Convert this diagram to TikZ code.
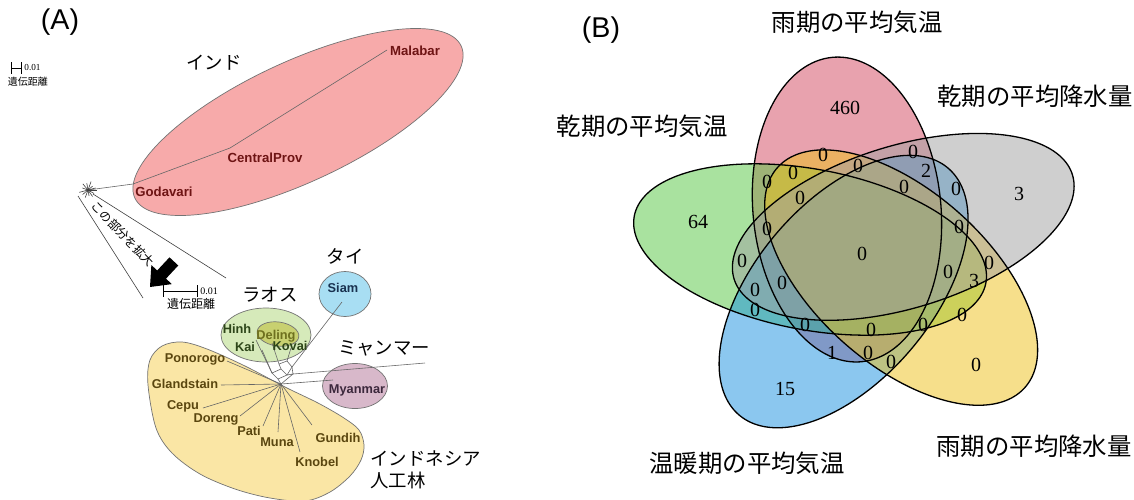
\documentclass[tikz,border=0pt]{standalone}
\usepackage{fontspec}
\setmainfont{Liberation Serif}
\setsansfont{Liberation Sans}
\newfontfamily\jp{Noto Sans CJK JP}

% Venn set colours (filled at half opacity)
\definecolor{vred}{RGB}{211,71,95}
\definecolor{vgray}{RGB}{161,161,161}
\definecolor{vyellow}{RGB}{239,193,25}
\definecolor{vblue}{RGB}{25,145,225}
\definecolor{vgreen}{RGB}{85,199,65}
% population groups of the network
\definecolor{indfill}{RGB}{247,170,170}
\definecolor{indtext}{RGB}{110,20,20}
\definecolor{idnfill}{RGB}{250,230,165}
\definecolor{idntext}{RGB}{90,70,15}
\definecolor{laofill}{RGB}{214,234,186}
\definecolor{laotext}{RGB}{45,70,25}
\definecolor{delfill}{RGB}{200,208,112}
\definecolor{deltext}{RGB}{110,112,30}
\definecolor{thafill}{RGB}{168,222,243}
\definecolor{thatext}{RGB}{25,50,80}
\definecolor{myafill}{RGB}{216,184,202}
\definecolor{myatext}{RGB}{60,40,60}

\tikzset{
  panel/.style={font=\sffamily\fontsize{14.3}{16}\selectfont, inner sep=0},
  jlab/.style={font=\jp\fontsize{9.2}{11}\selectfont, inner sep=0},
  vlab/.style={font=\jp\fontsize{12.2}{14}\selectfont, inner sep=0},
  num/.style={font=\fontsize{10}{12}\selectfont, inner sep=0},
  taxon/.style={font=\sffamily\bfseries\fontsize{6.4}{8}\selectfont, inner sep=0},
  taxonbig/.style={font=\sffamily\bfseries\fontsize{6.6}{8}\selectfont, inner sep=0, text=indtext},
  branch/.style={draw=black!60, line width=0.3pt},
  blob/.style={draw=black!55, line width=0.35pt},
  scalebar/.style={|-|, line width=0.5pt},
}

\begin{document}
\begin{tikzpicture}[x=0.5pt, y=-0.5pt]
\fill[white] (0,0) rectangle (1134,499);
\useasboundingbox (0,0) rectangle (1134,499);

% ---------------- panel A : splits network ----------------
\node[panel] (pa) at (60,22) {(A)};

% overall scale bar
\coordinate (s1a) at (11,68);
\coordinate (s1b) at (22,68);
\draw[scalebar] (s1a) -- (s1b);
\node[font=\fontsize{4.6}{5}\selectfont, anchor=west, inner sep=0] (s1t) at (24,68) {0.01};
\node[font=\jp\fontsize{5}{6}\selectfont, inner sep=0] (s1j) at (28,82) {遺伝距離};

% India group
\draw[blob, fill=indfill, rotate around={25:(298,122)}] (298,122) ellipse [x radius=180, y radius=60];
\coordinate (hubA) at (88,190);
\coordinate (jGod) at (133,184);
\coordinate (jCen) at (230,148);
\coordinate (jMal) at (387,50);
\draw[branch] (hubA) -- (jGod) -- (jCen) -- (jMal);
\foreach \a/\l in {0/9,30/7,55/8,80/6,110/8,140/7,165/9,200/6,230/8,260/7,290/9,320/6,345/8}
  \draw[branch, draw=black!75] (hubA) -- ++(\a:\l);
\node[taxonbig] (godavari) at (164,192) {Godavari};
\node[taxonbig] (centralprov) at (265,158) {CentralProv};
\node[taxonbig] (malabar) at (415,51) {Malabar};
\node[jlab] (india) at (214,63) {インド};

% cone towards the enlarged part
\coordinate (c1a) at (78,196);
\coordinate (c1b) at (143,298);
\coordinate (c2a) at (93,194);
\coordinate (c2b) at (226,278);
\draw[branch, draw=black!75] (c1a) -- (c1b);
\draw[branch, draw=black!75] (c2a) -- (c2b);
\node[font=\jp\fontsize{6}{7}\selectfont, inner sep=0, rotate=-46] (zoomtxt) at (123,234) {この部分を拡大};

% block arrow
\begin{scope}[shift={(150,287)}, rotate=47]
  \fill[black] (0,0) -- (17,14) -- (17,6) -- (35,6) -- (35,-6) -- (17,-6) -- (17,-14) -- cycle;
\end{scope}

% enlarged scale bar
\coordinate (s2a) at (163,291);
\coordinate (s2b) at (198,291);
\draw[scalebar] (s2a) -- (s2b);
\node[font=\fontsize{5}{6}\selectfont, anchor=west, inner sep=0] (s2t) at (200,291) {0.01};
\node[font=\jp\fontsize{6}{7}\selectfont, inner sep=0] (s2j) at (191,304) {遺伝距離};

% group outlines
\draw[blob, fill=idnfill] plot[smooth cycle, tension=0.55] coordinates {
  (148,385) (150,360) (162,346) (182,342) (207,349) (245,366) (285,387)
  (318,403) (344,418) (359,430) (364,445) (361,460) (350,476) (330,492)
  (305,501) (270,498) (235,489) (200,474) (172,453) (156,428)};
\draw[blob, fill=laofill] (266,335) ellipse [x radius=45, y radius=27];
\draw[blob, fill=delfill, rotate around={-8:(278,334)}] (278,334) ellipse [x radius=21, y radius=12];
\draw[blob, fill=thafill] (345,294) ellipse [x radius=26, y radius=22.5];
\draw[blob, fill=myafill] (355,386) ellipse [x radius=32.5, y radius=22.5];

% network branches
\coordinate (hub) at (281,384);
\coordinate (b1) at (272,373);
\coordinate (b2) at (281,369);
\coordinate (b3) at (287,375);
\coordinate (b4) at (278,379);
\coordinate (b5) at (279,364);
\coordinate (b6) at (287,361);
\coordinate (b7) at (292,367);
\coordinate (b8) at (293,374);
\coordinate (ePon) at (227,361);
\coordinate (eGla) at (221,385);
\coordinate (eCep) at (203,408);
\coordinate (eDor) at (240,416);
\coordinate (ePat) at (263,426);
\coordinate (eMun) at (278,432);
\coordinate (eKno) at (300,452);
\coordinate (eGun) at (312,425);
\coordinate (eSia) at (342,302);
\coordinate (eMy1) at (425,363);
\coordinate (eMy2) at (333,380);
\coordinate (eHin) at (256,340);
\coordinate (eKai) at (262,350);
\coordinate (eDel) at (272,343);
\coordinate (eKov) at (291,348);
\foreach \e in {ePon,eGla,eCep,eDor,ePat,eMun,eKno,eGun}
  \draw[branch] (hub) -- (\e);
\draw[branch] (b1) -- (b2) -- (b3) -- (b4) -- cycle;
\draw[branch] (b2) -- (b5) -- (b6) -- (b7) -- (b3);
\draw[branch] (b4) -- (hub) -- (b8) -- (b3);
\draw[branch] (b7) -- (b8);
\draw[branch] (b7) -- (eSia);
\draw[branch] (b8) -- (eMy1);
\draw[branch] (hub) -- (eMy2);
\draw[branch] (eHin) -- (b1);
\draw[branch] (eKai) -- (b1);
\draw[branch] (eDel) -- (b5);
\draw[branch] (eKov) -- (b6);

% taxon labels
\node[taxon, text=thatext] (siam) at (343,288) {Siam};
\node[taxon, text=laotext] (hinh) at (237,329) {Hinh};
\node[taxon, text=laotext] (kai) at (245,347) {Kai};
\node[taxon, text=deltext] (deling) at (276,336) {Deling};
\node[taxon, text=laotext] (kovai) at (290,346) {Kovai};
\node[taxon, text=myatext] (myanmar) at (357,390) {Myanmar};
\node[taxon, text=idntext] (ponorogo) at (195,359) {Ponorogo};
\node[taxon, text=idntext] (glandstain) at (185,384) {Glandstain};
\node[taxon, text=idntext] (cepu) at (183,406) {Cepu};
\node[taxon, text=idntext] (doreng) at (216,419) {Doreng};
\node[taxon, text=idntext] (pati) at (249,431) {Pati};
\node[taxon, text=idntext] (muna) at (277,442) {Muna};
\node[taxon, text=idntext] (gundih) at (338,438) {Gundih};
\node[taxon, text=idntext] (knobel) at (317,462) {Knobel};

% group names
\node[jlab] (thai) at (345,256) {タイ};
\node[jlab] (laos) at (270,295) {ラオス};
\node[jlab] (myan) at (384,348) {ミャンマー};
\node[jlab, align=left, anchor=north west] (indo) at (370,450) {インドネシア\\人工林};

% ---------------- panel B : five-set Venn diagram ----------------
\node[panel] (pb) at (601,30) {(B)};

\begin{scope}[shift={(861,251)}, xscale=392, yscale=-332]
  \foreach \th/\ps/\col in {106/94/vred, 178/166/vgreen, 250/238/vblue, 322/310/vyellow, 394/382/vgray}
    \fill[\col, fill opacity=0.5] plot[domain=0:360, samples=181, variable=\t]
      ({0.13*cos(\th)+0.46*cos(\t)*cos(\ps)-0.24*sin(\t)*sin(\ps)},
       {0.13*sin(\th)+0.46*cos(\t)*sin(\ps)+0.24*sin(\t)*cos(\ps)}) -- cycle;
  \foreach \th/\ps in {106/94, 178/166, 250/238, 322/310, 394/382}
    \draw[black, line width=0.65pt] plot[domain=0:360, samples=181, variable=\t]
      ({0.13*cos(\th)+0.46*cos(\t)*cos(\ps)-0.24*sin(\t)*sin(\ps)},
       {0.13*sin(\th)+0.46*cos(\t)*sin(\ps)+0.24*sin(\t)*cos(\ps)}) -- cycle;
\end{scope}

\foreach \x/\y/\n [count=\k] in {
  845/108/460, 698/222/64, 1019/194/3, 976/365/0, 785/389/15, 862/254/0,
  823/155/0, 858/166/0, 913/152/0, 926/171/2, 793/173/0, 767/182/0,
  800/198/0, 904/187/0, 956/189/0, 767/229/0, 959/227/0, 742/261/0,
  989/263/0, 948/272/0, 974/281/3, 962/315/0, 923/325/0, 891/362/0,
  755/290/0, 782/283/0, 755/310/0, 805/325/0, 871/330/0, 832/353/1, 868/353/0}
  \node[num] (vn\k) at (\x,\y) {\n};

\node[vlab] (lab1) at (857,22) {雨期の平均気温};
\node[vlab] (lab2) at (1035,96) {乾期の平均降水量};
\node[vlab] (lab3) at (642,126) {乾期の平均気温};
\node[vlab] (lab4) at (747,463) {温暖期の平均気温};
\node[vlab] (lab5) at (1034,446) {雨期の平均降水量};
\end{tikzpicture}
\end{document}
